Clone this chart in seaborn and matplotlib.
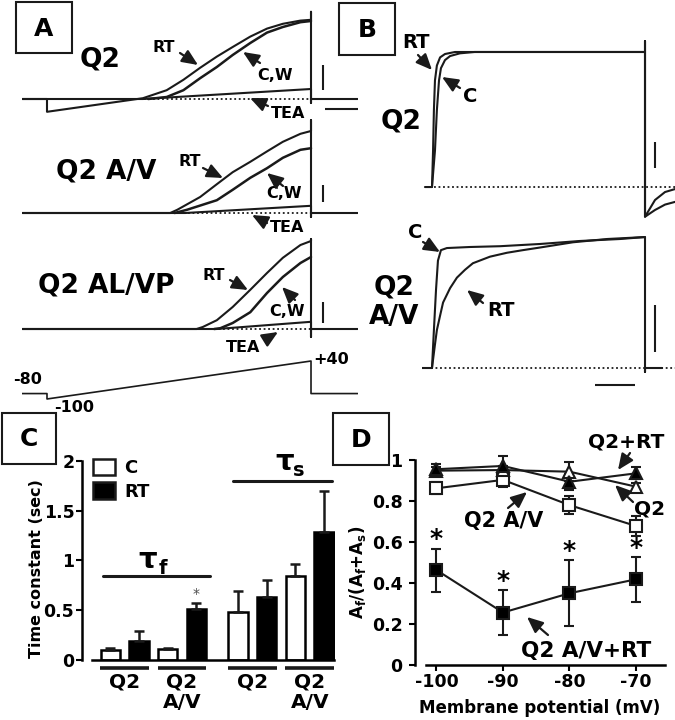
# Fig: Q2 channel traces (A, B), time constants (C), fast fraction vs voltage (D)

import numpy as np
import pandas as pd
import matplotlib
matplotlib.use("Agg")
import matplotlib.pyplot as plt
import matplotlib.patches as mpatches
import seaborn as sns

# ---- panel A: ramp currents (time in s, current normalised) ----
a_q2_rt_t = [-0.28, 0.0, 0.0, 1.09, 1.36, 1.55, 1.74, 1.93, 2.11, 2.31, 2.50, 2.68, 2.88, 3.0, 3.0, 3.0, 3.0, 3.53]
a_q2_rt_i = [0, 0, -0.16, 0.01, 0.11, 0.24, 0.39, 0.53, 0.65, 0.78, 0.88, 0.94, 0.98, 0.99, 1.09, -0.05, 0, 0]
a_q2_c_t = [1.15, 1.36, 1.55, 1.74, 1.93, 2.11, 2.31, 2.50, 2.68, 2.88, 3.0]
a_q2_c_i = [0, 0.025, 0.11, 0.26, 0.40, 0.55, 0.70, 0.83, 0.90, 0.96, 0.975]
a_q2_tea_t = [-0.28, 1.09, 3.0, 3.0]
a_q2_tea_i = [0, 0, 0.125, 0]

a_av_rt_t = [-0.28, 1.40, 1.48, 1.74, 1.93, 2.11, 2.31, 2.50, 2.68, 2.88, 3.0, 3.0, 3.0, 3.0, 3.53]
a_av_rt_i = [0, 0, 0.04, 0.20, 0.36, 0.51, 0.64, 0.77, 0.89, 0.99, 1.025, 1.16, -0.05, 0, 0]
a_av_c_t = [1.45, 1.59, 1.93, 2.11, 2.31, 2.50, 2.68, 2.88, 3.0]
a_av_c_i = [0, 0.04, 0.16, 0.29, 0.44, 0.56, 0.69, 0.79, 0.81]
a_av_tea_t = [-0.28, 1.57, 3.0, 3.0]
a_av_tea_i = [0, 0, 0.09, 0]

a_al_rt_t = [-0.28, 1.70, 1.77, 1.93, 2.11, 2.31, 2.50, 2.68, 2.88, 3.0, 3.0, 3.0, 3.0, 3.53]
a_al_rt_i = [0, 0, 0.025, 0.11, 0.275, 0.49, 0.70, 0.89, 1.05, 1.10, 1.125, -0.10, 0, 0]
a_al_c_t = [1.90, 1.97, 2.11, 2.31, 2.50, 2.68, 2.88, 3.0]
a_al_c_i = [0, 0.01, 0.075, 0.21, 0.45, 0.65, 0.825, 0.90]
a_al_tea_t = [-0.28, 1.93, 3.0, 3.0]
a_al_tea_i = [0, 0, 0.09, 0]

prot_t = [-0.31, 0.0, 0.0, 3.0, 3.0, 3.53]
prot_mv = [-80, -80, -100, 40, -80, -80]

# ---- panel B: step currents (time in pulse units, current normalised) ----
b_q2_rt_t = [-0.033, 0.0, 0.005, 0.009, 0.014, 0.023, 0.038, 0.061, 0.108, 1.0, 1.0, 1.0, 1.047, 1.094, 1.141]
b_q2_rt_i = [0, 0, 0.27, 0.57, 0.79, 0.90, 0.96, 0.985, 1.0, 1.0, 1.08, -0.22, -0.096, -0.037, -0.015]
b_q2_c_t = [0.0, 0.014, 0.023, 0.033, 0.042, 0.061, 0.085, 0.131, 0.20, 1.0, 1.0, 1.047, 1.094, 1.141]
b_q2_c_i = [0, 0.27, 0.57, 0.79, 0.88, 0.94, 0.97, 0.99, 1.0, 1.0, -0.22, -0.17, -0.13, -0.11]

b_av_c_t = [-0.047, 0.0, 0.009, 0.019, 0.028, 0.042, 0.07, 0.178, 0.319, 0.507, 0.695, 0.883, 1.0, 1.0, 1.0, 1.08]
b_av_c_i = [0, 0, 0.29, 0.60, 0.82, 0.90, 0.916, 0.924, 0.93, 0.947, 0.97, 0.985, 1.0, -0.03, 0, 0]
b_av_rt_t = [0.0, 0.014, 0.023, 0.038, 0.052, 0.085, 0.117, 0.155, 0.192, 0.272, 0.352, 0.427, 0.507, 0.662, 0.822, 1.0]
b_av_rt_i = [0, 0.18, 0.29, 0.40, 0.50, 0.61, 0.69, 0.75, 0.80, 0.85, 0.88, 0.90, 0.92, 0.96, 0.985, 1.0]

# ---- panel C: time constants (sec), mean and SEM ----
c_groups = ["Q2", "Q2\nA/V", "Q2", "Q2\nA/V"]
c_ctrl = [0.10, 0.11, 0.485, 0.846]
c_ctrl_err = [0.024, 0.01, 0.207, 0.12]
c_rt = [0.194, 0.508, 0.629, 1.281]
c_rt_err = [0.10, 0.067, 0.174, 0.418]

# ---- panel D: Af/(Af+As) vs membrane potential ----
d_mv = [-100, -90, -80, -70]
d_q2 = [0.948, 0.951, 0.943, 0.870]
d_q2_err = [0.02, 0.02, 0.045, 0.02]
d_q2_rt = [0.955, 0.971, 0.894, 0.935]
d_q2_rt_err = [0.025, 0.05, 0.04, 0.03]
d_av = [0.862, 0.903, 0.780, 0.678]
d_av_err = [0.03, 0.035, 0.045, 0.05]
d_av_rt = [0.463, 0.256, 0.350, 0.418]
d_av_rt_err = [0.105, 0.108, 0.16, 0.11]

sns.set_theme(style="white")
plt.rcParams["font.family"] = ["DejaVu Sans"]
plt.rcParams["font.weight"] = "bold"
plt.rcParams["axes.labelweight"] = "bold"
plt.rcParams["mathtext.fontset"] = "dejavusans"
for key in ["text.color", "axes.labelcolor", "xtick.color", "ytick.color", "axes.edgecolor"]:
    plt.rcParams[key] = "black"

W, H = 675, 720
fig = plt.figure(figsize=(6.75, 7.2), dpi=100)


def px_axes(x0, y0, x1, y1, **kw):
    return fig.add_axes([x0 / W, 1 - y1 / H, (x1 - x0) / W, (y1 - y0) / H], **kw)


def trace_axes(x0, y0, x1, y1, xlim, ylim):
    ax = px_axes(x0, y0, x1, y1)
    ax.set_xlim(*xlim)
    ax.set_ylim(*ylim)
    ax.set_axis_off()
    ax.patch.set_alpha(0)
    return ax


def trace(ax, t, i, lw=1.5):
    sns.lineplot(x=t, y=i, ax=ax, color="k", lw=lw, sort=False, estimator=None)


def zero_line(ax, t0, t1):
    ax.plot([t0, t1], [0, 0], color="k", lw=1.3, ls=(0, (1, 1.5)))


# panel A traces
a_xlim = (-0.284, 3.534)
for base, rt, c, tea, tz in [
    (99, (a_q2_rt_t, a_q2_rt_i), (a_q2_c_t, a_q2_c_i), (a_q2_tea_t, a_q2_tea_i), 1.1),
    (213, (a_av_rt_t, a_av_rt_i), (a_av_c_t, a_av_c_i), (a_av_tea_t, a_av_tea_i), 1.5),
    (329, (a_al_rt_t, a_al_rt_i), (a_al_c_t, a_al_c_i), (a_al_tea_t, a_al_tea_i), 1.9),
]:
    ax = trace_axes(22, base - 96, 358, base + 20, a_xlim, (-0.25, 1.2))
    zero_line(ax, tz, 3.0)
    trace(ax, *tea)
    trace(ax, *rt)
    trace(ax, *c, lw=1.8)

axp = trace_axes(22, 358.3, 358, 401.7, a_xlim, (-110, 50))
trace(axp, prot_t, prot_mv, lw=1.2)

# panel B traces
b_xlim = (-0.0469, 1.1408)
axb1 = trace_axes(422, 37, 675, 227, b_xlim, (-0.296, 1.111))
zero_line(axb1, -0.033, 1.141)
trace(axb1, b_q2_rt_t, b_q2_rt_i)
trace(axb1, b_q2_c_t, b_q2_c_i)
axb2 = trace_axes(422, 217.4, 675, 381.1, b_xlim, (-0.1, 1.15))
zero_line(axb2, -0.047, 1.141)
trace(axb2, b_av_c_t, b_av_c_i)
trace(axb2, b_av_rt_t, b_av_rt_i)

# ---- panel C ----
c_pos = [0.5, 2.5, 4.95, 6.95]
axc = px_axes(82, 460.7, 335, 660)
df_c = pd.DataFrame({
    "pos": c_pos * 2,
    "cond": ["C"] * 4 + ["RT"] * 4,
    "value": c_ctrl + c_rt,
})
sns.barplot(data=df_c, x="pos", y="value", hue="cond", hue_order=["C", "RT"],
            palette={"C": "white", "RT": "black"}, native_scale=True, width=1.0, gap=0.33,
            errorbar=None, edgecolor="black", linewidth=1.8, legend=False, ax=axc)
xc = np.array(c_pos)
for off, m, e in [(-0.5, c_ctrl, c_ctrl_err), (0.5, c_rt, c_rt_err)]:
    axc.errorbar(xc + off, m, yerr=[np.zeros(4), e], fmt="none", ecolor="k",
                 elinewidth=1.8, capsize=3.6, capthick=1.8, zorder=1.5)
axc.text(c_pos[1] + 0.5, c_rt[1] + c_rt_err[1] + 0.09, "*", ha="center", va="center",
         fontsize=10, fontweight="normal", color="0.3")
for p in c_pos:
    axc.plot([p - 0.85, p + 0.85], [-0.08, -0.08], color="k", lw=2.6, clip_on=False,
             solid_capstyle="butt")
axc.plot([-0.25, 3.47], [0.846, 0.846], color="k", lw=2.2, clip_on=False)
axc.plot([4.28, 7.72], [1.80, 1.80], color="k", lw=2.2, clip_on=False)
axc.set_xlim(-0.986, 7.83)
axc.set_ylim(0, 2)
axc.set_xticks(c_pos)
axc.set_xticklabels(c_groups, fontsize=14.5, fontweight="bold", linespacing=1.1)
axc.set_yticks([0, 0.5, 1, 1.5, 2])
axc.set_yticklabels(["0", "0.5", "1", "1.5", "2"], fontsize=12.5, fontweight="bold")
axc.tick_params(axis="x", length=0, pad=9)
axc.tick_params(axis="y", direction="out", length=4, width=1.5, pad=1.5, left=True)
axc.set_xlabel("")
axc.set_ylabel("Time constant (sec)", fontsize=11.5, fontweight="bold")
axc.yaxis.set_label_coords(-0.152, 0.46)
sns.despine(ax=axc)
axc.spines["left"].set_linewidth(1.8)
axc.spines["bottom"].set_linewidth(1.8)
axc.spines["bottom"].set_bounds(-0.64, 7.8)
handles = [mpatches.Patch(facecolor="white", edgecolor="k", lw=1.8, label="C"),
           mpatches.Patch(facecolor="black", edgecolor="k", lw=1.8, label="RT")]
axc.legend(handles=handles, loc="upper left", bbox_to_anchor=(0.043, 1.01), frameon=False,
           handlelength=1.25, handleheight=1.0, handletextpad=0.5, labelspacing=0.3,
           borderaxespad=0, borderpad=0, prop={"size": 13, "weight": "bold"})

# ---- panel D ----
axd = px_axes(415, 460, 665, 665)
for vals, errs, mk, face in [(d_av, d_av_err, "s", "white"),
                             (d_av_rt, d_av_rt_err, "s", "black"),
                             (d_q2, d_q2_err, "^", "white"),
                             (d_q2_rt, d_q2_rt_err, "^", "black")]:
    axd.errorbar(d_mv, vals, yerr=errs, fmt="none", ecolor="k", elinewidth=1.5,
                 capsize=3.6, capthick=1.5, zorder=1.5)
    sns.lineplot(x=d_mv, y=vals, ax=axd, color="k", lw=1.5, marker=mk, markersize=8.5,
                 markerfacecolor=face, markeredgecolor="k", markeredgewidth=1.5, zorder=3)
for x, m, e in zip(d_mv, d_av_rt, d_av_rt_err):
    axd.text(x, m + e + 0.045, "*", ha="center", va="center", fontsize=18, fontweight="bold")
axd.set_xlim(-103.23, -65.64)
axd.set_ylim(0, 1)
axd.set_xticks(d_mv)
axd.set_xticklabels(["-100", "-90", "-80", "-70"], fontsize=12.5, fontweight="bold")
axd.set_yticks([0, 0.2, 0.4, 0.6, 0.8, 1.0])
axd.set_yticklabels(["0", "0.2", "0.4", "0.6", "0.8", "1"], fontsize=12.5, fontweight="bold")
axd.tick_params(axis="x", direction="out", length=4, width=1.5, pad=1.5, bottom=True)
axd.tick_params(axis="y", direction="out", length=4, width=1.5, pad=5, left=True)
axd.set_xlabel("Membrane potential (mV)", fontsize=12, fontweight="bold")
axd.set_ylabel(r"A$_\mathbf{f}$/(A$_\mathbf{f}$+A$_\mathbf{s}$)", fontsize=12, fontweight="bold")
axd.xaxis.set_label_coords(0.5, -0.168)
axd.yaxis.set_label_coords(-0.19, 0.454)
sns.despine(ax=axd)
for s in ["left", "bottom"]:
    axd.spines[s].set_linewidth(1.8)
axd.spines["bottom"].set_bounds(-101.6, -65.64)
for art in axd.get_children():
    if hasattr(art, "set_clip_on"):
        art.set_clip_on(False)

# ---- annotations layer (pixel coordinates) ----
cv = fig.add_axes([0, 0, 1, 1], zorder=10)
cv.set_xlim(0, W)
cv.set_ylim(H, 0)
cv.set_axis_off()


def label(x, y, s, size, **kw):
    cv.text(x, y, s, fontsize=size, fontweight="bold", ha="center", va="center", **kw)


def arrow(x0, y0, x1, y1):
    cv.annotate("", xy=(x1, y1), xytext=(x0, y0),
                arrowprops=dict(arrowstyle="-|>,head_length=0.8,head_width=0.35",
                                color="k", lw=1.6, shrinkA=0, shrinkB=0))


def bar(x0, y0, x1, y1, lw=1.5):
    cv.plot([x0, x1], [y0, y1], color="k", lw=lw, solid_capstyle="butt")


for letter, x0, y0, x1, y1 in [("A", 16, 2, 72, 53), ("B", 339, 3, 395, 55),
                               ("C", 2, 413, 56, 464), ("D", 333, 413, 389, 465)]:
    cv.add_patch(mpatches.Rectangle((x0, y0), x1 - x0, y1 - y0, fill=False, lw=1.5, ec="k"))
    label((x0 + x1) / 2, (y0 + y1) / 2 + 1, letter, 18)

# A
label(100, 59, "Q2", 19)
label(164, 47, "RT", 11.5); arrow(180, 53, 198, 65)
label(275, 75, "C,W", 11.5); arrow(260, 63, 243, 52)
label(288, 113, "TEA", 11.5); arrow(268, 106, 250, 98)
label(106, 172, "Q2 A/V", 19)
label(190, 162, "RT", 11.5); arrow(203, 168, 223, 178)
label(284, 194, "C,W", 11.5); arrow(283, 186, 267, 173)
label(287, 228, "TEA", 11.5); arrow(267, 223, 252, 215)
label(106, 286, "Q2 AL/VP", 19)
label(214, 275, "RT", 11.5); arrow(230, 280, 248, 290)
label(287, 312, "C,W", 11.5); arrow(295, 300, 282, 287)
label(243, 348, "TEA", 11.5); arrow(265, 340, 278, 332)
label(28, 379, "-80", 11.5)
label(74, 408, "-100", 11.5)
label(331, 360, "+40", 11.5)
bar(323, 65, 323, 90); bar(323, 185, 323, 202); bar(323, 302, 323, 323)
bar(325, 109, 358, 109)

# B
label(416, 42, "RT", 14); arrow(418, 55, 432, 70)
label(470, 97, "C", 14); arrow(460, 88, 442, 77)
label(401, 122, "Q2", 19)
label(415, 233, "C", 14); arrow(423, 242, 440, 252)
label(394, 287, "Q2", 19); label(394, 317, "A/V", 19)
label(501, 310, "RT", 14); arrow(483, 303, 467, 290)
bar(655, 142, 655, 168); bar(655, 305, 655, 352); bar(595, 385, 635, 385)

# C tau labels
label(148, 560, "τ", 21)
label(163, 568, "f", 14)
label(285, 462, "τ", 21)
label(299, 470, "s", 14)

# D
label(626, 442, "Q2+RT", 14.5); arrow(630, 453, 618, 470)
label(650, 509, "Q2", 14.5); arrow(633, 502, 615, 485)
label(504, 521, "Q2 A/V", 15); arrow(508, 508, 527, 492)
label(586, 651, "Q2 A/V+RT", 15.5); arrow(548, 635, 527, 617)

fig.savefig("out.png", dpi=100)
